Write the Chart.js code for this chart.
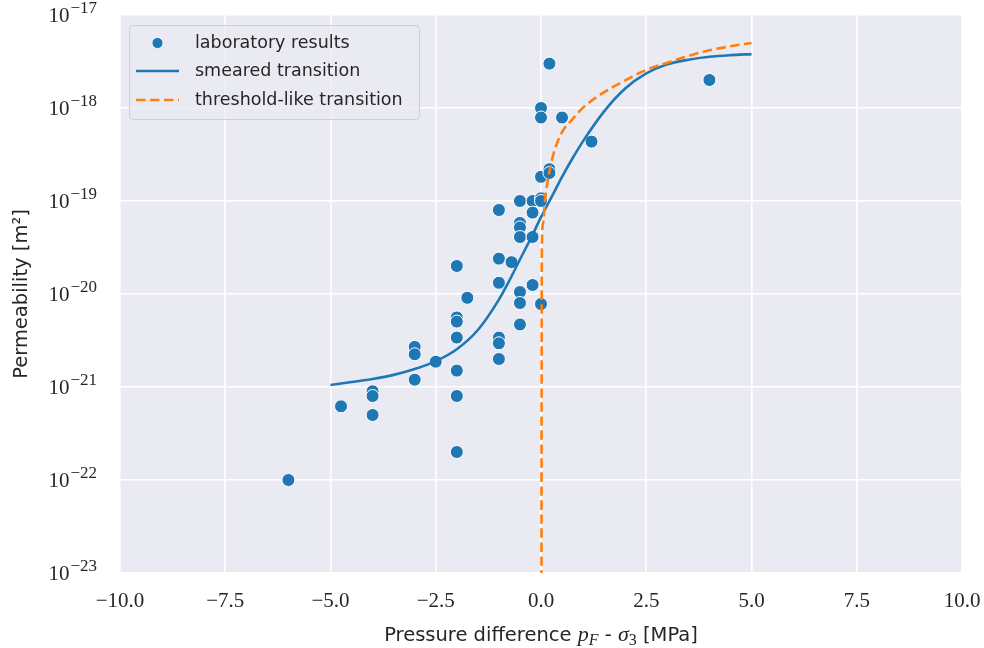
<!DOCTYPE html>
<html>
<head>
<meta charset="utf-8">
<script src="https://cdn.jsdelivr.net/npm/chart.js@4.4.1/dist/chart.umd.min.js"></script>
<style>
  html, body { margin: 0; padding: 0; background: #ffffff; }
  #wrap { width: 984px; height: 648px; }
</style>
</head>
<body>
<div id="wrap"><canvas id="chart" width="984" height="648"></canvas></div>
<script>
// Laboratory measurements: pressure difference p_F - sigma_3 [MPa] and permeability [m^2]
const labPressure = [
  -6, -4.75, -4, -4, -4, -3, -3, -3, -2.5,
  -2, -2, -2, -2, -2, -2, -2, -1.75,
  -1, -1, -1, -1, -1, -1, -0.7,
  -0.5, -0.5, -0.5, -0.5, -0.5, -0.5, -0.5,
  -0.2, -0.2, -0.2, -0.2,
  0, 0, 0, 0, 0, 0,
  0.2, 0.2, 0.2, 0.5, 1.2, 4
];
const labPermeability = [
  1e-22, 6.2e-22, 9e-22, 8e-22, 5e-22, 2.7e-21, 2.25e-21, 1.2e-21, 1.87e-21,
  2e-20, 5.6e-21, 5.05e-21, 3.4e-21, 1.5e-21, 8e-22, 2e-22, 9.1e-21,
  8e-20, 2.4e-20, 1.32e-20, 3.4e-21, 2.95e-21, 2e-21, 2.2e-20,
  1e-19, 5.8e-20, 5.2e-20, 4.1e-20, 1.05e-20, 8e-21, 4.7e-21,
  1e-19, 7.5e-20, 4.1e-20, 1.25e-20,
  1e-18, 7.9e-19, 1.82e-19, 1.07e-19, 1e-19, 7.8e-21,
  3e-18, 2.2e-19, 2e-19, 7.9e-19, 4.35e-19, 2e-18
];

// Smeared transition model curve
const smearedPressure = [
  -5, -4.5, -4, -3.5, -3, -2.5, -2, -1.5, -1, -0.75, -0.5, -0.25,
  0, 0.25, 0.5, 0.75, 1, 1.5, 2, 2.5, 3, 3.5, 4, 4.5, 5
];
const smearedPermeability = [
  1.05e-21, 1.13e-21, 1.22e-21, 1.35e-21, 1.56e-21, 1.9e-21, 2.55e-21, 4.1e-21, 8.7e-21, 1.4e-20, 2.35e-20, 3.9e-20,
  6.7e-20, 1.1e-19, 1.82e-19, 2.88e-19, 4.4e-19, 9.2e-19, 1.62e-18, 2.35e-18, 2.95e-18, 3.3e-18, 3.55e-18, 3.7e-18, 3.8e-18
];

// Threshold-like transition model curve (vanishing permeability at p_F - sigma_3 = 0)
const thresholdPressure = [0, 0.02, 0.05, 0.1, 0.2, 0.3, 0.5, 0.75, 1, 1.5, 2, 2.5, 3, 3.5, 4, 4.5, 5];
const thresholdPermeability = [
  1e-30, 3e-20, 5.8e-20, 1.07e-19, 2.05e-19, 3.25e-19, 5.5e-19, 7.6e-19, 1.01e-18,
  1.48e-18, 1.98e-18, 2.57e-18, 3.07e-18, 3.63e-18, 4.17e-18, 4.61e-18, 5e-18
];

// Axis ticks
const xTickValues = [-10, -7.5, -5, -2.5, 0, 2.5, 5, 7.5, 10];
const yTickExponents = [-23, -22, -21, -20, -19, -18, -17];

const TEXT = '#262626';
const BLUE = '#1f77b4';
const ORANGE = '#ff7f0e';
const SANS = '"DejaVu Sans", sans-serif';
const SERIF = '"Liberation Serif", "DejaVu Serif", serif';

const toPoints = (xs, ys) => xs.map((x, i) => ({ x: x, y: ys[i] }));

// Axes background
const panelBackground = {
  id: 'panelBackground',
  beforeDraw(chart) {
    const { ctx, chartArea: a } = chart;
    ctx.save();
    ctx.fillStyle = '#eaeaf2';
    ctx.fillRect(a.left, a.top, a.right - a.left, a.bottom - a.top);
    ctx.restore();
  }
};

// Power-of-ten labels on the log axis
const powerLabels = {
  id: 'powerLabels',
  afterDraw(chart) {
    const { ctx } = chart;
    const y = chart.scales.y;
    const right = 97;
    ctx.save();
    ctx.fillStyle = TEXT;
    ctx.textAlign = 'right';
    ctx.textBaseline = 'middle';
    yTickExponents.forEach(e => {
      const py = y.getPixelForValue(Math.pow(10, e));
      const exp = '\u2212' + Math.abs(e);
      ctx.font = '17px ' + SERIF;
      const ew = ctx.measureText(exp).width;
      ctx.fillText(exp, right, py - 6);
      ctx.font = '21px ' + SERIF;
      ctx.fillText('10', right - ew - 1, py + 1);
    });
    ctx.restore();
  }
};

// x-axis title with math symbols
const xAxisTitle = {
  id: 'xAxisTitle',
  afterDraw(chart) {
    const { ctx, chartArea: a } = chart;
    const parts = [
      { t: 'Pressure difference ', f: '19.5px ' + SANS, dy: 0 },
      { t: 'p', f: 'italic 22px ' + SERIF, dy: 0 },
      { t: 'F', f: 'italic 16px ' + SERIF, dy: 4 },
      { t: ' - ', f: '19.5px ' + SANS, dy: 0 },
      { t: '\u03c3', f: 'italic 22px ' + SERIF, dy: 0 },
      { t: '3', f: '16px ' + SERIF, dy: 4 },
      { t: ' [MPa]', f: '19.5px ' + SANS, dy: 0 }
    ];
    ctx.save();
    ctx.fillStyle = TEXT;
    ctx.textBaseline = 'alphabetic';
    ctx.textAlign = 'left';
    let total = 0;
    parts.forEach(p => { ctx.font = p.f; p.w = ctx.measureText(p.t).width; total += p.w; });
    let x = (a.left + a.right) / 2 - total / 2;
    const base = 641;
    parts.forEach(p => { ctx.font = p.f; ctx.fillText(p.t, x, base + p.dy); x += p.w; });
    ctx.restore();
  }
};

// Legend box in the upper-left corner of the axes
const legendBox = {
  id: 'legendBox',
  afterDatasetsDraw(chart) {
    const { ctx, chartArea: a } = chart;
    const bx = a.left + 9.5, by = a.top + 10.5, bw = 290, bh = 94, r = 4;
    ctx.save();
    ctx.beginPath();
    ctx.moveTo(bx + r, by);
    ctx.arcTo(bx + bw, by, bx + bw, by + bh, r);
    ctx.arcTo(bx + bw, by + bh, bx, by + bh, r);
    ctx.arcTo(bx, by + bh, bx, by, r);
    ctx.arcTo(bx, by, bx + bw, by, r);
    ctx.closePath();
    ctx.fillStyle = 'rgba(234,234,242,0.8)';
    ctx.fill();
    ctx.strokeStyle = '#cfcfd6';
    ctx.lineWidth = 1;
    ctx.stroke();

    const rows = [a.top + 28, a.top + 56, a.top + 85];
    const hx0 = a.left + 16, hx1 = a.left + 59, tx = a.left + 75;
    // marker
    ctx.beginPath();
    ctx.arc((hx0 + hx1) / 2, rows[0], 5.5, 0, Math.PI * 2);
    ctx.fillStyle = BLUE;
    ctx.fill();
    ctx.strokeStyle = '#ffffff';
    ctx.lineWidth = 0.8;
    ctx.stroke();
    // solid line
    ctx.beginPath();
    ctx.moveTo(hx0, rows[1]); ctx.lineTo(hx1, rows[1]);
    ctx.strokeStyle = BLUE; ctx.lineWidth = 2.6; ctx.stroke();
    // dashed line
    ctx.beginPath();
    ctx.setLineDash([9.5, 4.5]);
    ctx.moveTo(hx0, rows[2]); ctx.lineTo(hx1, rows[2]);
    ctx.strokeStyle = ORANGE; ctx.stroke();
    ctx.setLineDash([]);

    ctx.fillStyle = TEXT;
    ctx.font = '17.5px ' + SANS;
    ctx.textAlign = 'left';
    ctx.textBaseline = 'middle';
    ['laboratory results', 'smeared transition', 'threshold-like transition']
      .forEach((t, i) => ctx.fillText(t, tx, rows[i]));
    ctx.restore();
  }
};

const gridStyle = { color: '#ffffff', lineWidth: 1.6, drawTicks: false };

new Chart(document.getElementById('chart'), {
  type: 'scatter',
  data: {
    datasets: [
      {
        type: 'line',
        label: 'threshold-like transition',
        data: toPoints(thresholdPressure, thresholdPermeability),
        borderColor: ORANGE,
        borderWidth: 2.6,
        borderDash: [9.5, 4.5],
        pointRadius: 0,
        fill: false,
        cubicInterpolationMode: 'monotone',
        order: 0
      },
      {
        type: 'line',
        label: 'smeared transition',
        data: toPoints(smearedPressure, smearedPermeability),
        borderColor: BLUE,
        borderWidth: 2.6,
        pointRadius: 0,
        fill: false,
        cubicInterpolationMode: 'monotone',
        order: 1
      },
      {
        label: 'laboratory results',
        data: toPoints(labPressure, labPermeability),
        backgroundColor: BLUE,
        borderColor: '#ffffff',
        borderWidth: 1,
        pointRadius: 6.5,
        order: 2
      }
    ]
  },
  options: {
    responsive: false,
    animation: false,
    devicePixelRatio: 1,
    layout: { padding: { left: 0, right: 22, top: 15, bottom: 0 } },
    plugins: { legend: { display: false }, tooltip: { enabled: false } },
    scales: {
      x: {
        type: 'linear',
        min: -10,
        max: 10,
        afterBuildTicks: s => { s.ticks = xTickValues.map(v => ({ value: v })); },
        afterFit: s => { s.height = 75; s.paddingLeft = 0; s.paddingRight = 0; },
        grid: gridStyle,
        border: { display: false },
        ticks: {
          autoSkip: false,
          maxRotation: 0,
          padding: 16,
          color: TEXT,
          font: { family: SERIF, size: 21 },
          callback: v => (v < 0 ? '\u2212' : '') + Math.abs(v).toFixed(1)
        }
      },
      y: {
        type: 'logarithmic',
        min: 1e-23,
        max: 1e-17,
        afterBuildTicks: s => { s.ticks = yTickExponents.map(e => ({ value: Math.pow(10, e) })); },
        afterFit: s => { s.width = 120; },
        grid: gridStyle,
        border: { display: false },
        ticks: { display: false },
        title: {
          display: true,
          text: 'Permeability [m\u00b2]',
          color: TEXT,
          font: { family: SANS, size: 19.5 },
          padding: { top: 10, bottom: 0 }
        }
      }
    }
  },
  plugins: [panelBackground, powerLabels, xAxisTitle, legendBox]
});
</script>
</body>
</html>
